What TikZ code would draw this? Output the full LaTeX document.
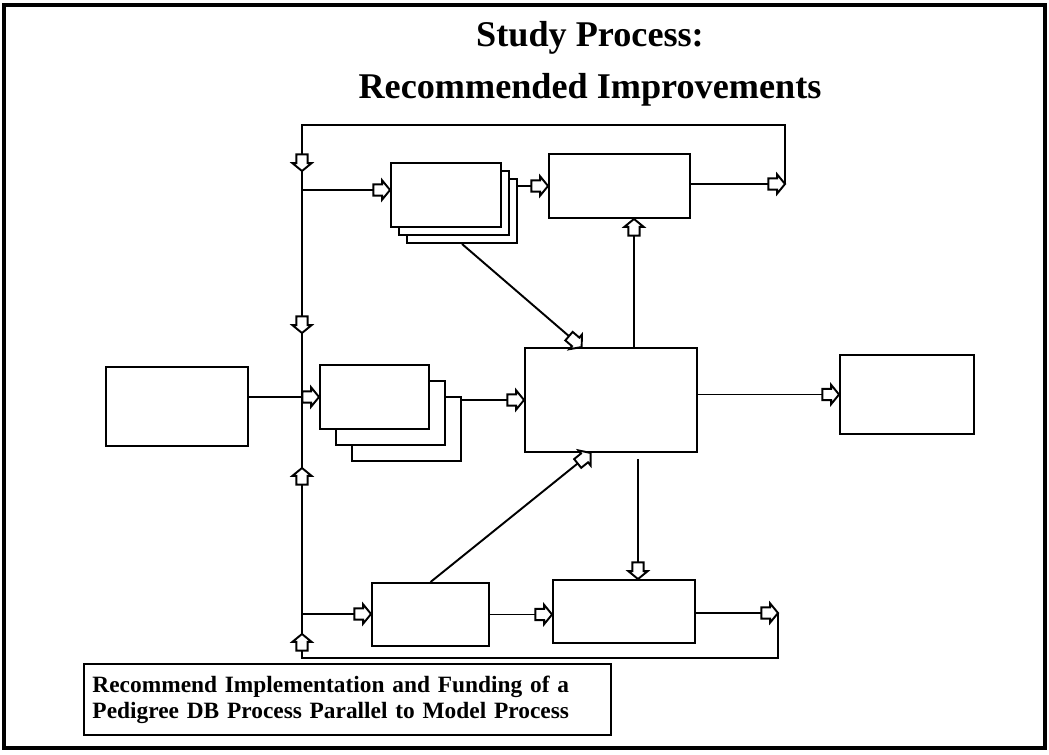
\documentclass[tikz,border=0pt]{standalone}
\usepackage{fontspec}
\setmainfont{Liberation Serif}
\usepackage{tikz}

% hollow block arrow head
\pgfdeclarearrow{
  name = blk,
  setup code = {
    \pgfarrowssettipend{0pt}
    \pgfarrowssetlineend{-5pt}
    \pgfarrowssetbackend{-9.5pt}
    \pgfarrowssetvisualbackend{-9.5pt}
    \pgfarrowsupperhullpoint{0pt}{0pt}
    \pgfarrowsupperhullpoint{-4.5pt}{5.5pt}
    \pgfarrowsupperhullpoint{-9.5pt}{3.2pt}
  },
  drawing code = {
    \pgfsetmiterjoin
    \pgfpathmoveto{\pgfqpoint{0pt}{0pt}}
    \pgfpathlineto{\pgfqpoint{-4.5pt}{5.5pt}}
    \pgfpathlineto{\pgfqpoint{-4.5pt}{3.2pt}}
    \pgfpathlineto{\pgfqpoint{-9.5pt}{3.2pt}}
    \pgfpathlineto{\pgfqpoint{-9.5pt}{-3.2pt}}
    \pgfpathlineto{\pgfqpoint{-4.5pt}{-3.2pt}}
    \pgfpathlineto{\pgfqpoint{-4.5pt}{-5.5pt}}
    \pgfpathclose
    \pgfsetfillcolor{white}
    \pgfusepathqfillstroke
  }
}

\tikzset{
  box/.style={draw, fill=white, inner sep=0pt},
  ttl/.style={font=\fontsize{20.6}{24}\selectfont\bfseries}
}

\begin{document}
\begin{tikzpicture}[x=0.2mm, y=-0.2mm, line width=1.1pt]
\useasboundingbox (0,0) rectangle (1049,754);
\draw [line width=1.8pt] (4,5) rectangle (1045,748);

\node [ttl] (t1) at (590,38) {Study Process:};
\node [ttl] (t2) at (590,90) {Recommended Improvements};

% feed line on the left
\coordinate (top) at (302,125);
\coordinate (bot) at (302,658);
\draw (top) -- (bot);

\node [box, minimum width=28.4mm, minimum height=15.8mm] (src) at (177,406.5) {};
\node [box, minimum width=22mm, minimum height=12.8mm] (s1c) at (462,211) {};
\node [box, minimum width=22mm, minimum height=12.8mm] (s1b) at (454,203) {};
\node [box, minimum width=22mm, minimum height=12.8mm] (s1) at (446,195) {};
\node [box, minimum width=21.8mm, minimum height=12.8mm] (s2c) at (406.5,429) {};
\node [box, minimum width=21.8mm, minimum height=12.8mm] (s2b) at (390.5,413) {};
\node [box, minimum width=21.8mm, minimum height=12.8mm] (s2) at (374.5,397) {};
\node [box, minimum width=28.2mm, minimum height=12.8mm] (rev) at (619.5,186) {};
\node [box, minimum width=34.4mm, minimum height=20.8mm] (model) at (611,400) {};
\node [box, minimum width=26.8mm, minimum height=15.8mm] (out) at (907,394.5) {};
\node [box, minimum width=23.4mm, minimum height=12.6mm] (ped1) at (430.5,614.5) {};
\node [box, minimum width=28.4mm, minimum height=12.6mm] (ped2) at (624,611.5) {};

% top row
\coordinate (j1) at (302,190);
\coordinate (r1) at (785,184);
\coordinate (a1) at (302,171);
\draw [-blk] (j1) -- (j1 -| s1.west);
\draw [-blk] (s1c.east |- rev.west) -- (rev.west);
\draw [-blk] (rev.east |- r1) -- (r1);
\draw [-blk] (r1) |- (top) -- (a1);

% middle row
\coordinate (a2) at (302,300);
\coordinate (a3) at (302,333);
\coordinate (a4) at (302,500);
\coordinate (a5) at (302,468);
\draw [-blk] (a2) -- (a3);
\draw [-blk] (a4) -- (a5);
\draw [-blk] (src.east |- s2.west) -- (s2.west);
\draw [-blk] (s2c.east |- model.west) -- (model.west);
\draw [-blk] (model.east |- out.west) -- (out.west);
\draw [-blk] (s1c.south) -- (model.119);
\coordinate (u1) at (634,348);
\draw [-blk] (u1) -- (u1 |- rev.south);
\coordinate (d1) at (638,459);
\draw [-blk] (d1) -- (d1 |- ped2.north);

% bottom row
\coordinate (j4) at (302,614);
\coordinate (r2) at (778,613);
\coordinate (a6) at (302,634);
\draw [-blk] (ped1.north) -- (model.249);
\draw [-blk] (j4) -- (j4 -| ped1.west);
\draw [-blk] (ped1.east) -- (ped1.east -| ped2.west);
\draw [-blk] (ped2.east |- r2) -- (r2);
\draw [-blk] (r2) |- (bot) -- (a6);

\node [draw, line width=1.2pt, minimum width=105.4mm, minimum height=14.2mm, text width=102mm,
  inner xsep=1.7mm, align=left, font=\fontsize{13.3}{14.7}\selectfont\bfseries] (note) at (347.5,699.5)
  {Recommend Implementation and Funding of a\\Pedigree DB Process Parallel to Model Process};
\end{tikzpicture}
\end{document}
